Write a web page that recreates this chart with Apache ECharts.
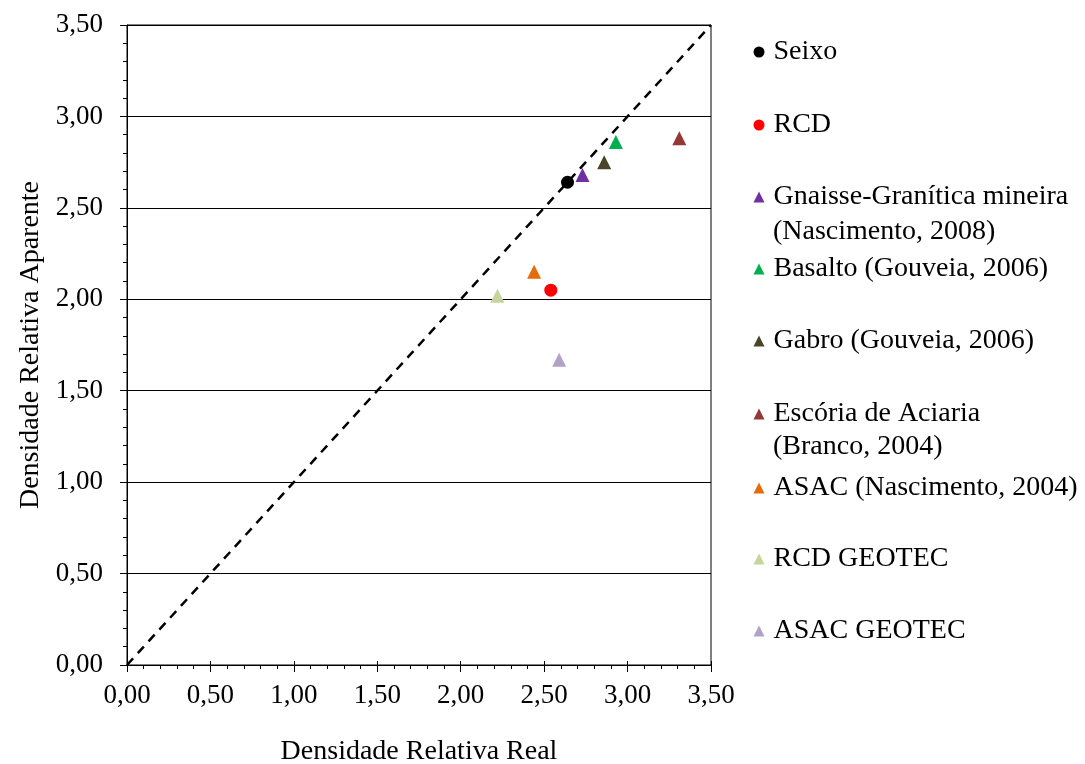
<!DOCTYPE html>
<html><head><meta charset="utf-8">
<script src="https://cdn.jsdelivr.net/npm/echarts@6/dist/echarts.min.js"></script>
<style>html,body{margin:0;padding:0;background:#fff}#c{width:1085px;height:764px}</style>
</head><body><div id="c"></div>
<script>
// ---- data ----
const seriesNames = ['Seixo', 'RCD', 'Gnaisse-Granítica mineira (Nascimento, 2008)', 'Basalto (Gouveia, 2006)', 'Gabro (Gouveia, 2006)', 'Escória de Aciaria (Branco, 2004)', 'ASAC (Nascimento, 2004)', 'RCD GEOTEC', 'ASAC GEOTEC'];
const realDensity = [2.64, 2.54, 2.73, 2.93, 2.86, 3.31, 2.44, 2.22, 2.59];
const apparentDensity = [2.64, 2.05, 2.68, 2.86, 2.75, 2.88, 2.15, 2.02, 1.67];
const equalityLine = [[0, 0], [3.5, 3.5]];
const legendFirstLines = ['Seixo', 'RCD', 'Gnaisse-Granítica mineira', 'Basalto (Gouveia, 2006)', 'Gabro (Gouveia, 2006)', 'Escória de Aciaria', 'ASAC (Nascimento, 2004)', 'RCD GEOTEC', 'ASAC GEOTEC'];
const legendSecondLines = ['', '', '(Nascimento, 2008)', '', '', '(Branco, 2004)', '', '', ''];
const xAxisTitle = 'Densidade Relativa Real';
const yAxisTitle = 'Densidade Relativa Aparente';

// ---- style ----
const palette = ['#000000', '#FF0000', '#7030A0', '#00B050', '#4A452A', '#953735', '#E46C0A', '#C3D69B', '#B3A2C7'];
const symbols = ['circle', 'circle', 'triangle', 'triangle', 'triangle', 'triangle', 'triangle', 'triangle', 'triangle'];
const legendCenters = [52, 125, 197, 269, 341, 414, 488, 559, 631];
const secondLineCenters = [0, 0, 232, 0, 0, 447, 0, 0, 0];
const FONT = 'Liberation Serif';
const fmt = v => v.toFixed(2).replace('.', ',');

const chart = echarts.init(document.getElementById('c'), null, {renderer: 'canvas'});

const series = seriesNames.map((name, i) => ({
  name,
  type: 'scatter',
  xAxisIndex: 0,
  yAxisIndex: 0,
  symbol: symbols[i],
  symbolSize: symbols[i] === 'circle' ? 13 : 14,
  itemStyle: {color: palette[i], opacity: 1},
  z: 3,
  data: [[realDensity[i], apparentDensity[i]]]
}));
series.push({
  name: 'equality',
  type: 'line',
  xAxisIndex: 0,
  yAxisIndex: 0,
  data: equalityLine,
  symbol: 'none',
  silent: true,
  z: 2,
  lineStyle: {color: '#000', width: 2.5, type: [9, 7]}
});

const legends = seriesNames.map((name, i) => ({
  show: true,
  orient: 'vertical',
  left: 753.5,
  top: legendCenters[i] - 14,
  padding: 0,
  itemWidth: 11,
  itemHeight: 11,
  selectedMode: false,
  data: [name],
  formatter: () => legendFirstLines[i],
  textStyle: {fontFamily: FONT, fontSize: 28, color: '#000', lineHeight: 28, padding: [0, 0, 0, 4]}
}));

const graphics = legendSecondLines.map((t, i) => t ? {
  type: 'text',
  left: 773,
  top: secondLineCenters[i] - 14,
  style: {text: t, fontFamily: FONT, fontSize: 28, fill: '#000', lineHeight: 28}
} : null).filter(Boolean);

const axisCommon = {
  type: 'value',
  min: 0,
  max: 3.5,
  interval: 0.5,
  axisLine: {show: true, onZero: false, lineStyle: {color: '#000', width: 1}},
  axisTick: {show: true, length: 7, lineStyle: {color: '#000', width: 1}},
  minorTick: {show: true, splitNumber: 5, length: 4, lineStyle: {color: '#000', width: 1}},
  axisLabel: {fontFamily: FONT, fontSize: 27, color: '#000', formatter: fmt},
  nameLocation: 'middle',
  nameTextStyle: {fontFamily: FONT, fontSize: 28, color: '#000'}
};
// overlay axes giving the inner half of the crossing major ticks
const innerTickAxis = {
  type: 'value', min: 0, max: 3.5, interval: 0.5,
  axisLine: {show: false},
  axisTick: {show: true, inside: true, length: 4, lineStyle: {color: '#000', width: 1}},
  axisLabel: {show: false},
  splitLine: {show: false}
};

chart.setOption({
  animation: false,
  backgroundColor: '#fff',
  grid: {left: 127, right: 374, top: 25, bottom: 99, containLabel: false, outerBoundsMode: 'none', show: true, borderColor: '#000', borderWidth: 1, backgroundColor: 'transparent'},
  xAxis: [
    Object.assign({}, axisCommon, {
      name: xAxisTitle, nameGap: 73,
      axisLabel: Object.assign({}, axisCommon.axisLabel, {margin: 17}),
      splitLine: {show: false}
    }),
    Object.assign({}, innerTickAxis, {position: 'bottom'})
  ],
  yAxis: [
    Object.assign({}, axisCommon, {
      name: yAxisTitle, nameGap: 80,
      axisLabel: Object.assign({}, axisCommon.axisLabel, {margin: 24}),
      splitLine: {show: true, lineStyle: {color: '#000', width: 1}}
    }),
    Object.assign({}, innerTickAxis, {position: 'left'})
  ],
  legend: legends,
  graphic: graphics,
  series
});
</script>
</body></html>
